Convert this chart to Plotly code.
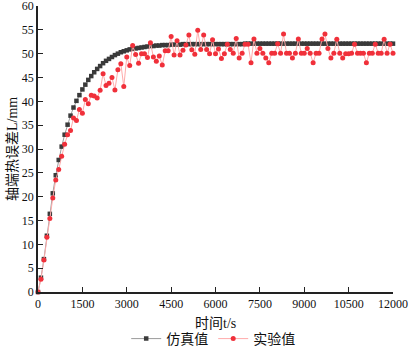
import plotly.graph_objects as go

time_s = list(range(0, 12001, 100))

sim_values = [
    0.0, 3.0, 6.9, 11.8, 16.4, 20.7, 24.5, 27.7, 30.5, 33.0,
    35.1, 37.0, 38.7, 40.1, 41.3, 42.5, 43.5, 44.5, 45.3, 46.1,
    46.8, 47.4, 48.0, 48.5, 48.9, 49.3, 49.7, 50.0, 50.3, 50.5,
    50.7, 50.9, 51.0, 51.1, 51.2, 51.3, 51.4, 51.5, 51.6, 51.6,
    51.7, 51.7, 51.8, 51.8, 51.8, 51.9, 51.9, 51.9, 51.9, 52.0,
    52.0, 52.0, 52.0, 52.0, 52.0, 52.0, 52.0, 52.0, 52.0, 52.0,
    52.0, 52.0, 52.0, 52.0, 52.0, 52.0, 52.0, 52.0, 52.0, 52.0,
    52.1, 52.1, 52.1, 52.1, 52.1, 52.1, 52.1, 52.1, 52.1, 52.1,
    52.1, 52.1, 52.1, 52.1, 52.1, 52.1, 52.1, 52.1, 52.1, 52.1,
    52.1, 52.1, 52.1, 52.1, 52.1, 52.1, 52.1, 52.1, 52.1, 52.1,
    52.1, 52.1, 52.1, 52.1, 52.1, 52.1, 52.1, 52.1, 52.1, 52.1,
    52.1, 52.1, 52.1, 52.1, 52.1, 52.1, 52.1, 52.1, 52.1, 52.1,
    52.1,
]

exp_values = [
    0.0, 2.7, 6.7, 11.5, 15.4, 19.7, 23.5, 25.7, 28.5, 31.0,
    33.0, 33.9, 36.5, 36.0, 38.3, 37.5, 40.4, 39.5, 41.3, 41.1,
    40.7, 42.3, 45.8, 43.3, 43.8, 45.0, 42.4, 46.6, 47.9, 43.1,
    49.3, 47.5, 51.7, 49.8, 48.0, 50.0, 50.0, 49.2, 52.3, 49.3,
    48.4, 49.5, 47.6, 50.6, 50.6, 53.6, 49.7, 52.7, 49.7, 50.7,
    51.8, 53.9, 50.8, 49.9, 54.9, 50.9, 53.9, 50.9, 50.0, 52.9,
    50.0, 51.0, 49.0, 50.0, 52.0, 50.9, 50.1, 53.2, 49.1, 50.1,
    52.0, 52.0, 48.1, 53.1, 50.1, 51.1, 50.1, 49.1, 48.1, 50.1,
    50.1, 52.1, 50.1, 54.1, 50.1, 50.1, 49.1, 50.1, 53.1, 50.1,
    50.1, 51.1, 50.1, 48.1, 50.1, 50.1, 53.1, 54.1, 51.1, 49.1,
    50.1, 53.0, 50.1, 49.1, 50.0, 50.0, 50.1, 52.0, 50.1, 50.1,
    50.1, 48.1, 50.1, 50.1, 52.0, 50.1, 50.1, 53.0, 50.1, 52.0,
    50.1,
]

x_ticks = [0, 1500, 3000, 4500, 6000, 7500, 9000, 10500, 12000]
y_ticks = list(range(0, 61, 5))
x_title = "时间t/s"
y_title = "轴端热误差L/mm"

font_fam = "Liberation Serif, Noto Sans CJK SC, serif"

fig = go.Figure()
fig.add_trace(go.Scatter(
    x=time_s, y=sim_values, name="仿真值", mode="lines+markers",
    line=dict(color="#9a9a9a", width=1),
    marker=dict(symbol="square", size=4.5, color="#3a3a3a"),
    cliponaxis=False,
))
fig.add_trace(go.Scatter(
    x=time_s, y=exp_values, name="实验值", mode="lines+markers",
    line=dict(color="#ffaaaa", width=1),
    marker=dict(symbol="circle", size=5, color="#f0303a"),
    cliponaxis=False,
))

W, H = 410, 346
ML, MR, MT, MB = 38, 17, 6, 54
pw, ph = W - ML - MR, H - MT - MB

fig.update_layout(
    width=W, height=H,
    margin=dict(l=ML, r=MR, t=MT, b=MB, autoexpand=False),
    paper_bgcolor="white", plot_bgcolor="white",
    font=dict(family=font_fam, size=12, color="#111"),
    showlegend=True,
    legend=dict(orientation="h", x=0.52, xanchor="center", xref="container",
                y=(H - 339) / H, yanchor="middle", yref="container",
                font=dict(size=14, family=font_fam), itemwidth=30,
                tracegroupgap=0, bgcolor="rgba(0,0,0,0)"),
    annotations=[
        dict(text=x_title, xref="paper", yref="paper",
             x=0.5, y=-(323 - (H - MB)) / ph, xanchor="center", yanchor="middle",
             showarrow=False, font=dict(size=14, family=font_fam)),
        dict(text=y_title, xref="paper", yref="paper", textangle=-90,
             x=(12 - ML) / pw, y=0.5, xanchor="center", yanchor="middle",
             showarrow=False, font=dict(size=14, family=font_fam)),
    ],
)
fig.update_xaxes(
    range=[0, 12000], tickvals=x_ticks, ticktext=[str(v) for v in x_ticks],
    showgrid=False, zeroline=False, showline=True, linecolor="#222", linewidth=1.5,
    ticks="inside", ticklen=5, tickcolor="#222", tickwidth=1,
    tickfont=dict(size=12), automargin=False, ticklabeloverflow="allow",
)
fig.update_yaxes(
    range=[0, 60], tickvals=y_ticks,
    showgrid=False, zeroline=False, showline=True, linecolor="#222", linewidth=1.5,
    ticks="inside", ticklen=5, tickcolor="#222", tickwidth=1,
    tickfont=dict(size=12), automargin=False, ticklabeloverflow="allow",
)

fig.write_html(
    "out.html",
    config={"displayModeBar": False},
    post_script="document.body.style.margin='0';document.body.style.padding='0';",
)
